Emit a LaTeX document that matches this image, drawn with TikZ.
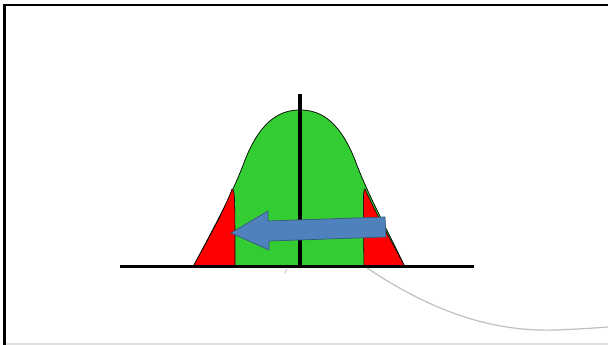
\documentclass[tikz,border=0pt]{standalone}
\usepackage{xcolor}
\usepackage{tikz}
\usetikzlibrary{arrows.meta,positioning,calc}

\definecolor{bellgreen}{RGB}{51,204,51}
\definecolor{tailred}{RGB}{255,0,0}
\definecolor{shiftblue}{RGB}{79,129,189}
\definecolor{shiftedge}{RGB}{56,87,125}
\definecolor{ghostgray}{RGB}{192,192,192}

\begin{document}
\begin{tikzpicture}[
  x=1pt,y=-1pt,
  outline/.style={draw=black,line width=0.7pt},
  axisline/.style={draw=black,line width=3pt},
  meanline/.style={draw=black,line width=4.5pt},
  tail/.style={fill=tailred,draw=black,line width=0.6pt},
  shiftarrow/.style={fill=shiftblue,draw=shiftedge,line width=0.7pt,line join=miter},
  ghost/.style={draw=ghostgray,line width=1.2pt}
]
\useasboundingbox (0,0) rectangle (608,345);
\fill[white] (0,0) rectangle (608,345);
\draw[line width=2.5pt] (4.25,345) -- (4.25,5) -- (608,5);
\draw[draw=black!12,line width=1.5pt] (5.5,344) -- (608,344);

\coordinate (lfoot) at (193,267);
\coordinate (rfoot) at (405,267);
\coordinate (peak) at (300,110);
\filldraw[fill=bellgreen,outline] (lfoot) .. controls (215,225) and (232,195) .. (245,160)
  .. controls (262,117) and (283,110) .. (peak)
  .. controls (317,110) and (338,117) .. (355,160)
  .. controls (368,195) and (385,225) .. (rfoot) -- cycle;

\coordinate (ltop) at (232,189);
\coordinate (rtop) at (365,189);
\filldraw[tail] (lfoot) .. controls (203,248) and (224,212) .. (ltop)
  .. controls (235,189) and (235,200) .. (235,267) -- cycle;
\filldraw[tail] (rfoot) .. controls (395,248) and (375,212) .. (rtop)
  .. controls (363,189) and (363,200) .. (364,267) -- cycle;

\draw[ghost] (367,268) .. controls (430,310) and (490,332) .. (555,330)
  .. controls (580,329) and (595,328) .. (608,327);
\draw[ghost,line width=0.8pt] (287,269) -- (285,273);

\coordinate (axisL) at (120,266.8);
\coordinate (axisR) at (474,266.8);
\draw[axisline] (axisL) -- (axisR);
\coordinate (meanTop) at (300,94);
\coordinate (meanBot) at (300,267);
\draw[meanline] (meanTop) -- (meanBot);

\coordinate (tip) at (231,233);
\filldraw[shiftarrow] (tip) -- (268,211) -- (268,221) -- (385,217)
  -- (386,237) -- (269,241) -- (269,250) -- cycle;
\end{tikzpicture}
\end{document}
